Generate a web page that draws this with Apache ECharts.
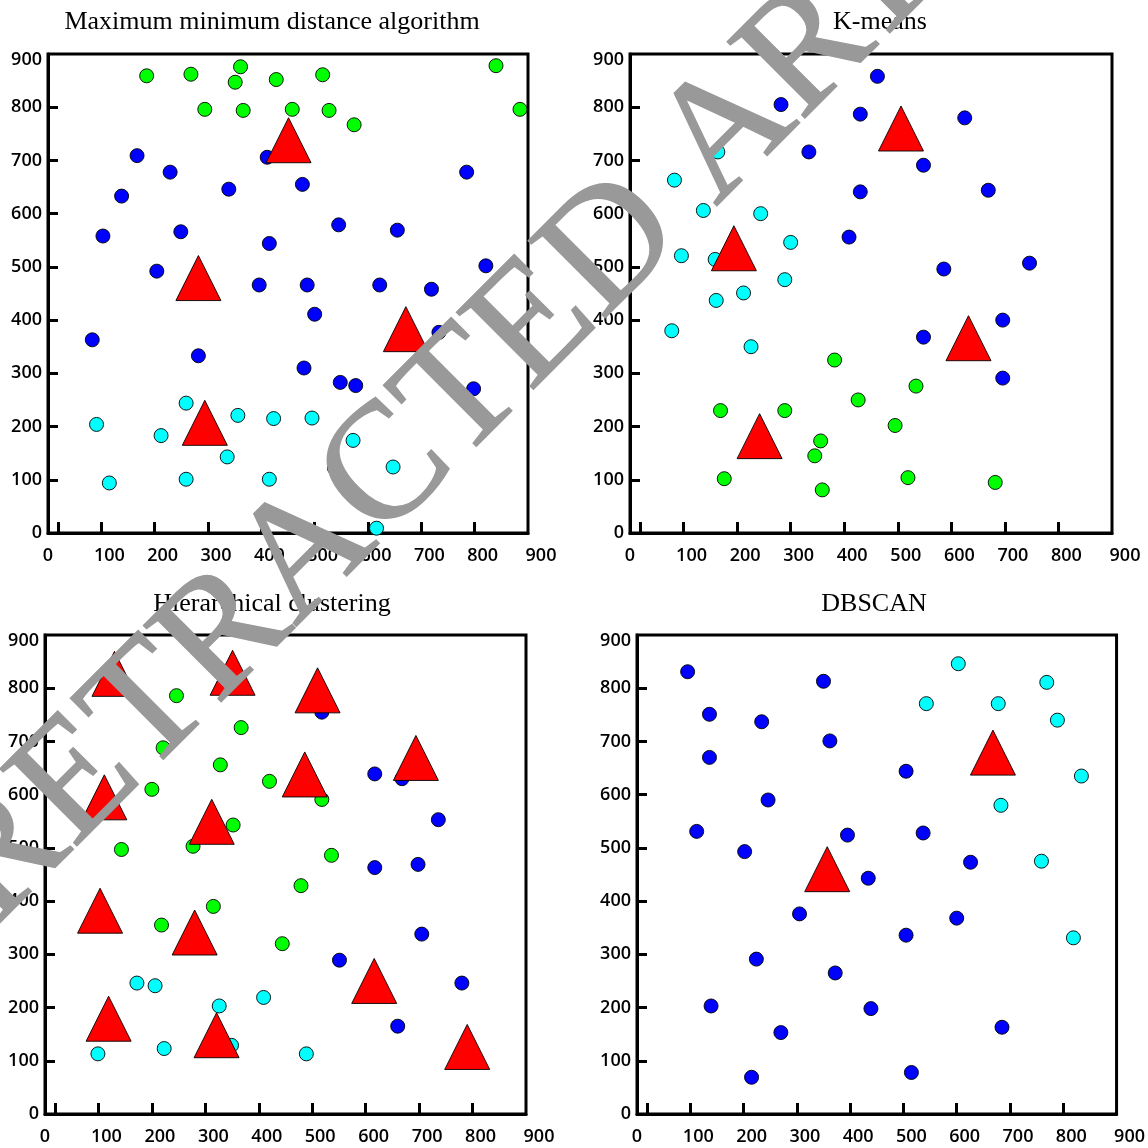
<!DOCTYPE html>
<html>
<head>
<meta charset="utf-8">
<script src="https://cdn.jsdelivr.net/npm/echarts@6/dist/echarts.min.js"></script>
<style>html,body{margin:0;padding:0;background:#fff}#c{width:1148px;height:1148px}</style>
</head>
<body>
<div id="c"></div>
<script>
// ---- Titles and tick labels ----
const titles = ['Maximum minimum distance algorithm', 'K-means', 'Hierarchical clustering', 'DBSCAN'];
const tickLabels = [0, 100, 200, 300, 400, 500, 600, 700, 800, 900];
const xTickMarks = [20, 100, 200, 300, 400, 500, 600, 700, 800];
const yTickMarks = [100, 200, 300, 400, 500, 600, 700, 800];

// ---- Panel 1: Maximum minimum distance algorithm ----
const mmdGreen = [[185,859],[268,862],[361,876],[351,847],[428,852],[515,861],[840,878],[294,796],[366,794],[458,796],[527,794],[574,767],[885,796]];
const mmdBlue = [[167,709],[229,678],[138,633],[339,646],[411,706],[477,655],[785,678],[103,558],[249,566],[545,579],[415,544],[655,569],[204,492],[821,502],[396,466],[486,466],[622,466],[719,458],[500,411],[83,363],[733,377],[282,333],[480,310],[548,283],[577,277],[798,271]];
const mmdCyan = [[259,244],[91,204],[212,183],[356,221],[423,215],[495,216],[572,174],[336,143],[115,94],[259,101],[415,101],[537,122],[647,124],[616,9]];
const mmdCenters = [[451,738],[282,479],[671,383],[294,207]];

// ---- Panel 2: K-means ----
const kmBlue = [[462,858],[282,805],[430,787],[625,780],[334,716],[548,691],[430,641],[669,644],[409,556],[586,496],[746,507],[696,400],[548,368],[696,291]];
const kmCyan = [[164,716],[83,663],[137,606],[244,600],[96,521],[159,514],[300,546],[289,476],[212,451],[161,437],[78,380],[226,350]];
const kmGreen = [[382,325],[534,276],[426,250],[169,230],[289,230],[495,202],[356,173],[345,145],[176,102],[519,104],[359,81],[682,95]];
const kmCenters = [[506,760],[194,535],[242,182],[632,366]];

// ---- Panel 3: Hierarchical clustering ----
const hcGreen = [[246,786],[367,726],[221,688],[328,656],[420,625],[200,610],[518,591],[352,543],[277,503],[143,497],[536,486],[479,429],[315,390],[218,355],[444,320]];
const hcBlue = [[518,755],[617,639],[668,630],[736,553],[617,463],[698,469],[705,338],[551,289],[780,246],[660,165]];
const hcCyan = [[172,246],[206,241],[409,219],[326,203],[99,113],[223,123],[349,129],[489,113]];
const hcCenters = [[130,827],[351,829],[510,796],[694,669],[486,638],[111,595],[312,549],[103,382],[280,341],[616,250],[119,179],[321,148],[790,126]];

// ---- Panel 4: DBSCAN ----
const dbBlue = [[95,831],[350,813],[136,751],[234,737],[362,701],[136,670],[505,644],[246,590],[112,531],[202,493],[395,524],[537,528],[626,473],[434,443],[305,376],[600,368],[505,336],[224,291],[372,265],[139,203],[439,198],[270,153],[685,163],[215,69],[515,78]];
const dbCyan = [[603,846],[769,811],[543,771],[678,771],[789,740],[834,635],[683,580],[759,475],[819,331]];
const dbCenters = [[668,679],[357,460]];

const watermark = 'RETRACTED ARTICLE';

// ---- Layout ----
const grids = [
  {left: 48, top: 54, width: 480, height: 479},
  {left: 630, top: 54, width: 482, height: 479},
  {left: 45, top: 635, width: 481, height: 479},
  {left: 637, top: 635, width: 481, height: 479}
];
const titlePos = [[272, 9], [880, 9], [272, 591], [874, 591]];

const C = {blue: '#0000ff', cyan: '#00ffff', green: '#00ff00', red: '#ff0000'};
const labelFont = 'Open Sans';
const LS = 18;
const LW = 600;

function xAxis(i) {
  return {
    gridIndex: i, type: 'value', min: 0, max: 900, interval: 100,
    axisLine: {show: true, lineStyle: {color: '#000', width: 3}},
    axisTick: {show: true, inside: true, length: 11, customValues: xTickMarks, lineStyle: {color: '#000', width: 3}},
    splitLine: {show: false},
    axisLabel: {
      show: true, margin: 14, customValues: tickLabels, color: '#000',
      fontFamily: labelFont, fontSize: LS, fontWeight: LW,
      formatter: v => v === 0 ? '{z|0}' : (v === 900 ? '{e|900}' : '{m|' + v + '}'),
      rich: {
        z: {fontFamily: labelFont, fontSize: LS, fontWeight: LW, color: '#000'},
        m: {fontFamily: labelFont, fontSize: LS, fontWeight: LW, color: '#000', padding: [0, 0, 0, 16]},
        e: {fontFamily: labelFont, fontSize: LS, fontWeight: LW, color: '#000', padding: [0, 0, 0, 26]}
      }
    }
  };
}
function yAxis(i) {
  return {
    gridIndex: i, type: 'value', min: 0, max: 900, interval: 100,
    axisLine: {show: true, lineStyle: {color: '#000', width: 3}},
    axisTick: {show: true, inside: true, length: 10, customValues: yTickMarks, lineStyle: {color: '#000', width: 3}},
    splitLine: {show: false},
    axisLabel: {
      show: true, margin: 6, color: '#000', fontFamily: labelFont, fontSize: LS, fontWeight: LW,
      formatter: v => v === 900 ? '{t|900}' : '{n|' + v + '}',
      rich: {
        n: {fontFamily: labelFont, fontSize: LS, fontWeight: LW, color: '#000'},
        t: {fontFamily: labelFont, fontSize: LS, fontWeight: LW, color: '#000', padding: [12, 0, 0, 0]}
      }
    }
  };
}
function dots(i, data, color) {
  return {
    type: 'scatter', xAxisIndex: i, yAxisIndex: i, data: data,
    symbol: 'circle', symbolSize: 14, z: 2,
    itemStyle: {color: color, borderColor: '#000', borderWidth: 0.9, opacity: 1},
    emphasis: {disabled: true}, animation: false
  };
}
function tris(i, data) {
  return {
    type: 'scatter', xAxisIndex: i, yAxisIndex: i, data: data,
    symbol: 'triangle', symbolSize: [45, 45], z: 3,
    itemStyle: {color: C.red, borderColor: '#000', borderWidth: 0.9, opacity: 1},
    emphasis: {disabled: true}, animation: false
  };
}

const chart = echarts.init(document.getElementById('c'), null, {renderer: 'canvas'});
chart.setOption({
  backgroundColor: '#fff',
  animation: false,
  title: titles.map((t, i) => ({
    text: t, left: titlePos[i][0], top: titlePos[i][1], textAlign: 'center', padding: 0,
    textStyle: {fontFamily: 'Liberation Serif', fontSize: 26, fontWeight: 'normal', color: '#000'}
  })),
  grid: grids.map(g => Object.assign({show: true, borderColor: '#000', borderWidth: 3, containLabel: false}, g)),
  xAxis: [0, 1, 2, 3].map(xAxis),
  yAxis: [0, 1, 2, 3].map(yAxis),
  series: [
    dots(0, mmdGreen, C.green), dots(0, mmdBlue, C.blue), dots(0, mmdCyan, C.cyan), tris(0, mmdCenters),
    dots(1, kmBlue, C.blue), dots(1, kmCyan, C.cyan), dots(1, kmGreen, C.green), tris(1, kmCenters),
    dots(2, hcGreen, C.green), dots(2, hcBlue, C.blue), dots(2, hcCyan, C.cyan), tris(2, hcCenters),
    dots(3, dbBlue, C.blue), dots(3, dbCyan, C.cyan), tris(3, dbCenters)
  ],
  graphic: [{
    type: 'text', x: 569, y: 292, rotation: Math.PI / 4, z: 100, silent: true,
    style: {
      text: watermark, fill: '#999999', font: '166px "Liberation Serif"',
      stroke: '#999999', lineWidth: 1.5,
      align: 'center', verticalAlign: 'middle'
    }
  }]
});
</script>
</body>
</html>
